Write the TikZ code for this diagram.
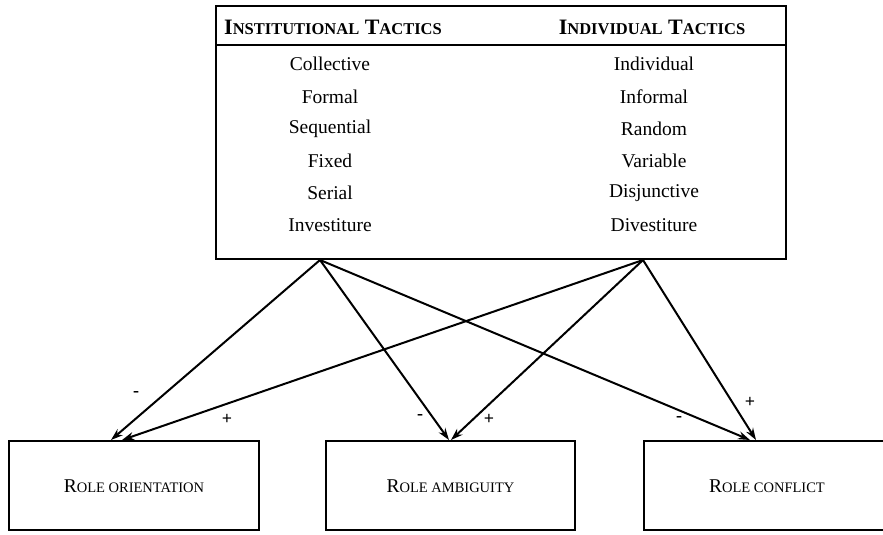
\documentclass[tikz,border=0pt]{standalone}
\usepackage{fontspec}
\setmainfont{Liberation Serif}
\usetikzlibrary{arrows.meta}

\newcommand{\fakesc}[3]{#2{\fontsize{#1}{#1}\selectfont #3}}

\begin{document}
\begin{tikzpicture}[x=1pt, y=-1pt,
  head/.style={font=\fontsize{22}{26}\selectfont\bfseries},
  item/.style={font=\fontsize{19.5}{23}\selectfont},
  rolebox/.style={draw, line width=2pt, minimum height=89pt, inner sep=0pt, anchor=north west},
  role/.style={font=\fontsize{19.5}{23}\selectfont},
  link/.style={line width=2pt, -{Stealth[length=12pt, width=8pt]}},
  sign/.style={font=\fontsize{18}{18}\selectfont\bfseries}]
\useasboundingbox (0,0) rectangle (883,535);
\fill[white] (0,0) rectangle (883,535);

\node[draw, line width=2pt, minimum width=570pt, minimum height=253pt, inner sep=0pt, anchor=north west] (tactics) at (215,5) {};
\draw[line width=2pt] (tactics.west |- 0,45) -- (tactics.east |- 0,45);

\node[head] (insthead) at (333,27) {\fakesc{16.5}{I}{NSTITUTIONAL} \fakesc{16.5}{T}{ACTICS}};
\node[head] (indivhead) at (652,27) {\fakesc{16.5}{I}{NDIVIDUAL} \fakesc{16.5}{T}{ACTICS}};

\node[item] (collective) at (330,64) {Collective};
\node[item] (formal) at (330,97) {Formal};
\node[item] (sequential) at (330,129) {Sequential};
\node[item] (fixed) at (330,161) {Fixed};
\node[item] (serial) at (330,193) {Serial};
\node[item] (investiture) at (330,225) {Investiture};

\node[item] (individual) at (654,64) {Individual};
\node[item] (informal) at (654,97) {Informal};
\node[item] (random) at (654,129) {Random};
\node[item] (variable) at (654,161) {Variable};
\node[item] (disjunctive) at (654,193) {Disjunctive};
\node[item] (divestiture) at (654,225) {Divestiture};

\node[rolebox, minimum width=250pt] (orient) at (8,440) {};
\node[rolebox, minimum width=249pt] (ambig) at (325,440) {};
\node[rolebox, minimum width=250pt] (confl) at (643,440) {};

\node[role] (orienttxt) at ([yshift=-1pt]orient.center) {\fakesc{14.5}{R}{OLE ORIENTATION}};
\node[role] (ambigtxt) at ([yshift=-1pt]ambig.center) {\fakesc{14.5}{R}{OLE AMBIGUITY}};
\node[role] (confltxt) at ([xshift=-2pt, yshift=-1pt]confl.center) {\fakesc{14.5}{R}{OLE CONFLICT}};

\coordinate (inst) at ([xshift=105pt]tactics.south west);
\coordinate (indiv) at ([xshift=428pt]tactics.south west);

\draw[link] (inst) -- ([xshift=103pt]orient.north west);
\draw[link] (inst) -- ([xshift=124pt]ambig.north west);
\draw[link] (inst) -- ([xshift=107pt]confl.north west);
\draw[link] (indiv) -- ([xshift=114pt]orient.north west);
\draw[link] (indiv) -- ([xshift=126pt]ambig.north west);
\draw[link] (indiv) -- ([xshift=113pt]confl.north west);

\node[sign] (m1) at (136,394) {-};
\node[sign] (p1) at (227,419) {+};
\node[sign] (m2) at (420,417) {-};
\node[sign] (p2) at (489,419) {+};
\node[sign] (m3) at (679,419) {-};
\node[sign] (p3) at (750,402) {+};
\end{tikzpicture}
\end{document}
